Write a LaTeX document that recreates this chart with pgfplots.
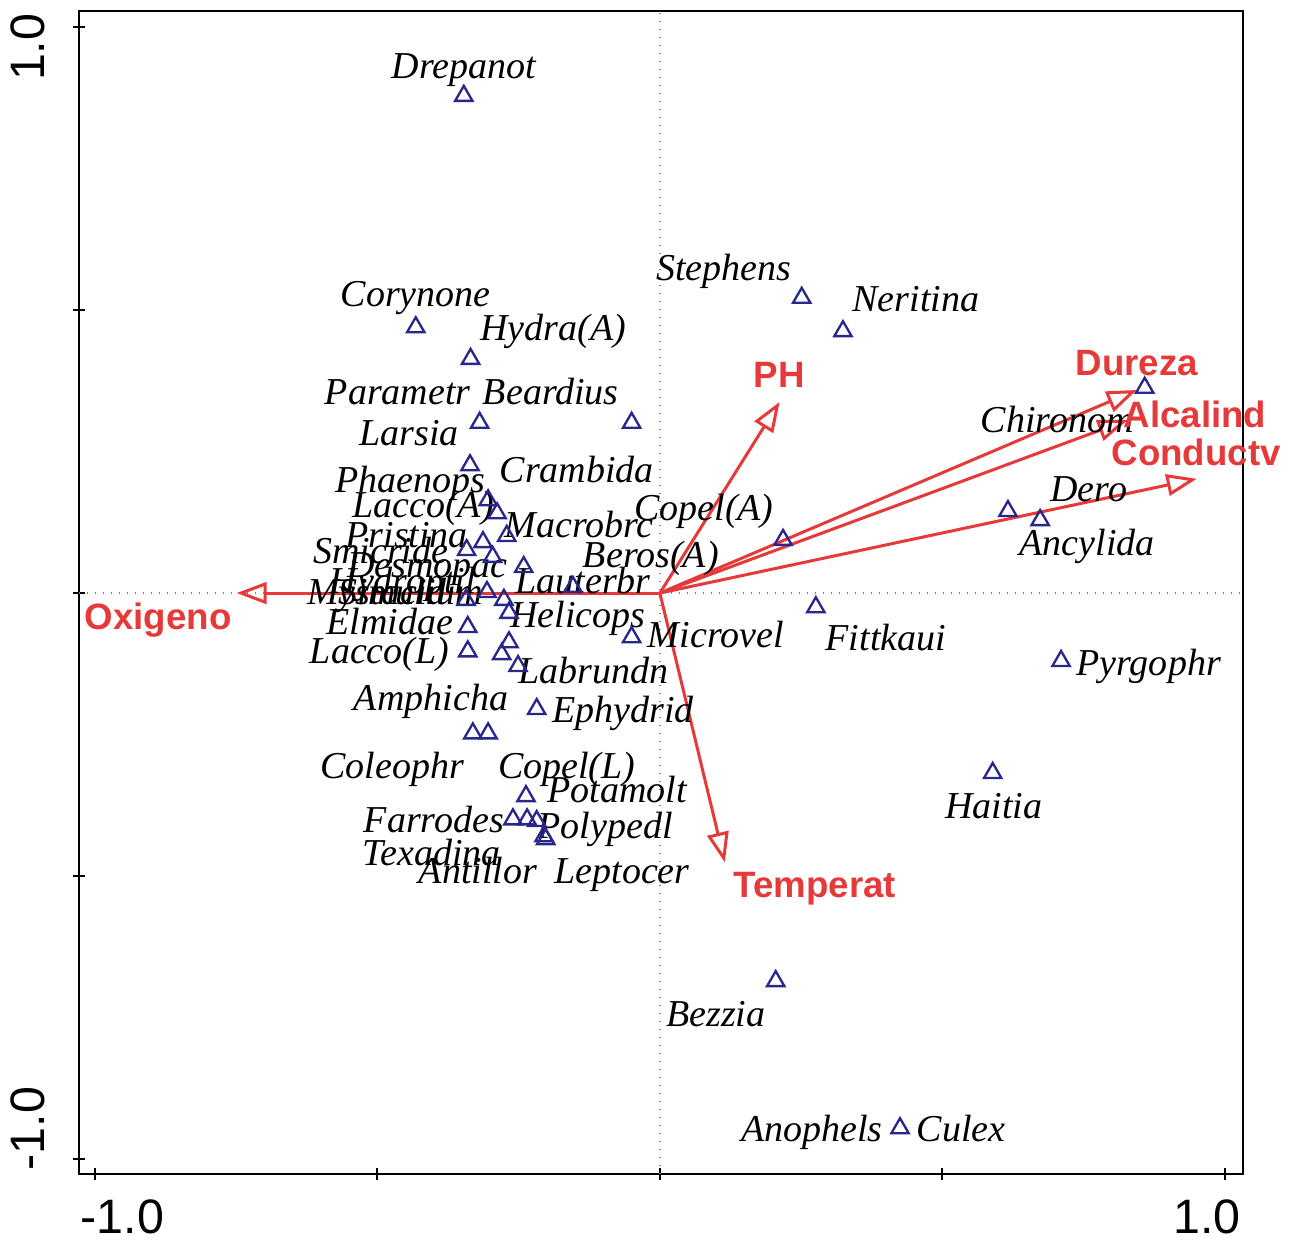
\documentclass[border=0pt]{standalone}
\usepackage{fontspec}
\setmainfont{Liberation Serif}
\setsansfont{Liberation Sans}
\usepackage{pgfplots}
\pgfplotsset{compat=1.18}
\usetikzlibrary{arrows.meta}
\definecolor{envred}{RGB}{230,57,57}
\definecolor{spblue}{RGB}{40,40,140}
\tikzset{
  species/.style={anchor=base, inner sep=0pt, font=\itshape\fontsize{11.4}{13}\selectfont},
  env/.style={anchor=base, inner sep=0pt, text=envred, font=\sffamily\bfseries\fontsize{11}{13}\selectfont},
  envarrow/.style={envred, line width=0.9pt, -{Triangle[open, length=9pt, width=6.5pt, line width=0.9pt]}},
}

\begin{document}
\begin{tikzpicture}
\begin{axis}[
  width=349.2pt, height=348.9pt, scale only axis,
  xmin=-1.028, xmax=1.032, ymin=-1.027, ymax=1.029,
  axis line style={line width=0.7pt},
  xtick={-1,-0.5,0,0.5,1}, ytick={-1,-0.5,0,0.5,1},
  xticklabels={{\hspace*{16.5pt}-1.0},,,,{1.0\hspace*{10.8pt}}},
  yticklabels={{\hspace*{18pt}-1.0},,,,{1.0\hspace*{12pt}}},
  xtick pos=left, ytick pos=left,
  tick align=center, major tick length=3.6pt,
  tick style={line width=0.6pt, black},
  ticklabel style={font=\sffamily\fontsize{14.5}{16}\selectfont},
  yticklabel style={rotate=90, anchor=south},
  xticklabel shift=2.5pt, yticklabel shift=4.8pt,
  clip=false,
]
\coordinate (bl) at (rel axis cs:0,0);
\coordinate (tr) at (rel axis cs:1,1);

% zero lines
\addplot[gray, dotted, line width=0.4pt] coordinates {(-1.028,0) (1.032,0)};
\addplot[gray, dotted, line width=0.4pt] coordinates {(0,-1.027) (0,1.029)};

% environmental arrows
\addplot[envarrow] coordinates {(0,0) (-0.749,0)};
\addplot[envarrow] coordinates {(0,0) (0.212,0.338)};
\addplot[envarrow] coordinates {(0,0) (0.844,0.359)};
\addplot[envarrow] coordinates {(0,0) (0.828,0.306)};
\addplot[envarrow] coordinates {(0,0) (0.950,0.202)};
\addplot[envarrow] coordinates {(0,0) (0.115,-0.476)};

% species scores
\addplot[only marks, mark=triangle, mark size=3pt, spblue, mark options={line width=0.7pt}] coordinates {
(-0.347,0.879) (-0.432,0.470) (-0.335,0.414) (-0.319,0.301) (-0.050,0.301)
(-0.336,0.226) (-0.304,0.164) (-0.288,0.141) (-0.271,0.101) (-0.313,0.090)
(-0.342,0.076) (-0.296,0.064) (-0.241,0.046) (-0.154,0.011) (-0.306,0.002)
(-0.276,-0.012) (-0.343,-0.012) (-0.267,-0.035) (-0.340,-0.060) (-0.267,-0.087)
(-0.280,-0.108) (-0.251,-0.129) (-0.340,-0.103) (-0.050,-0.078) (-0.218,-0.205)
(-0.331,-0.248) (-0.304,-0.248) (-0.237,-0.359) (-0.260,-0.400) (-0.235,-0.400)
(-0.218,-0.403) (-0.202,-0.435) (-0.205,-0.430) (0.218,0.094) (0.276,-0.025)
(0.251,0.522) (0.324,0.463) (0.858,0.363) (0.616,0.145) (0.673,0.129)
(0.710,-0.120) (0.589,-0.318) (0.205,-0.686) (0.425,-0.946)
};

% species labels
\node[species] at (axis cs:-0.347,0.909) {Drepanot};
\node[species] at (axis cs:0.113,0.552) {Stephens};
\node[species] at (axis cs:0.453,0.497) {Neritina};
\node[species] at (axis cs:-0.432,0.506) {Corynone};
\node[species] at (axis cs:-0.189,0.446) {Hydra(A)};
\node[species] at (axis cs:-0.464,0.334) {Parametr};
\node[species] at (axis cs:-0.193,0.334) {Beardius};
\node[species] at (axis cs:-0.444,0.260) {Larsia};
\node[species] at (axis cs:-0.147,0.196) {Crambida};
\node[species] at (axis cs:-0.441,0.177) {Phaenops};
\node[species] at (axis cs:-0.419,0.134) {Lacco(A)};
\node[species] at (axis cs:0.078,0.129) {Copel(A)};
\node[species] at (axis cs:-0.143,0.099) {Macrobrc};
\node[species] at (axis cs:-0.448,0.081) {Pristina};
\node[species] at (axis cs:-0.494,0.053) {Smicride};
\node[species] at (axis cs:-0.016,0.046) {Beros(A)};
\node[species] at (axis cs:-0.411,0.027) {Desmopac};
\node[species] at (axis cs:-0.136,0.000) {Lauterbr};
\node[species] at (axis cs:-0.455,0.000) {Hydroptil};
\node[species] at (axis cs:-0.501,-0.021) {Mystacid};
\node[species] at (axis cs:-0.441,-0.021) {Simulium};
\node[species] at (axis cs:-0.478,-0.074) {Elmidae};
\node[species] at (axis cs:-0.145,-0.060) {Helicops};
\node[species] at (axis cs:0.099,-0.097) {Microvel};
\node[species] at (axis cs:0.400,-0.101) {Fittkaui};
\node[species] at (axis cs:-0.496,-0.124) {Lacco(L)};
\node[species] at (axis cs:-0.117,-0.159) {Labrundn};
\node[species] at (axis cs:0.865,-0.145) {Pyrgophr};
\node[species] at (axis cs:-0.405,-0.207) {Amphicha};
\node[species] at (axis cs:-0.065,-0.228) {Ephydrid};
\node[species] at (axis cs:-0.474,-0.327) {Coleophr};
\node[species] at (axis cs:-0.165,-0.327) {Copel(L)};
\node[species] at (axis cs:-0.076,-0.370) {Potamolt};
\node[species] at (axis cs:0.591,-0.398) {Haitia};
\node[species] at (axis cs:-0.400,-0.423) {Farrodes};
\node[species] at (axis cs:-0.097,-0.433) {Polypedl};
\node[species] at (axis cs:-0.404,-0.481) {Texadina};
\node[species] at (axis cs:-0.322,-0.513) {Antillor};
\node[species] at (axis cs:-0.067,-0.513) {Leptocer};
\node[species] at (axis cs:0.099,-0.766) {Bezzia};
\node[species] at (axis cs:0.269,-0.969) {Anophels};
\node[species] at (axis cs:0.533,-0.969) {Culex};
\node[species] at (axis cs:0.703,0.283) {Chironom};
\node[species] at (axis cs:0.759,0.161) {Dero};
\node[species] at (axis cs:0.756,0.067) {Ancylida};

% environmental labels
\node[env] at (axis cs:-0.888,-0.065) {Oxigeno};
\node[env] at (axis cs:0.211,0.363) {PH};
\node[env] at (axis cs:0.844,0.384) {Dureza};
\node[env] at (axis cs:0.947,0.292) {Alcalind};
\node[env] at (axis cs:0.949,0.226) {Conductv};
\node[env] at (axis cs:0.274,-0.538) {Temperat};
\end{axis}
\pgfresetboundingbox
\path[use as bounding box] ([shift={(-23.7pt,-20.4pt)}]bl) rectangle ([shift={(17.1pt,3.3pt)}]tr);
\end{tikzpicture}
\end{document}
